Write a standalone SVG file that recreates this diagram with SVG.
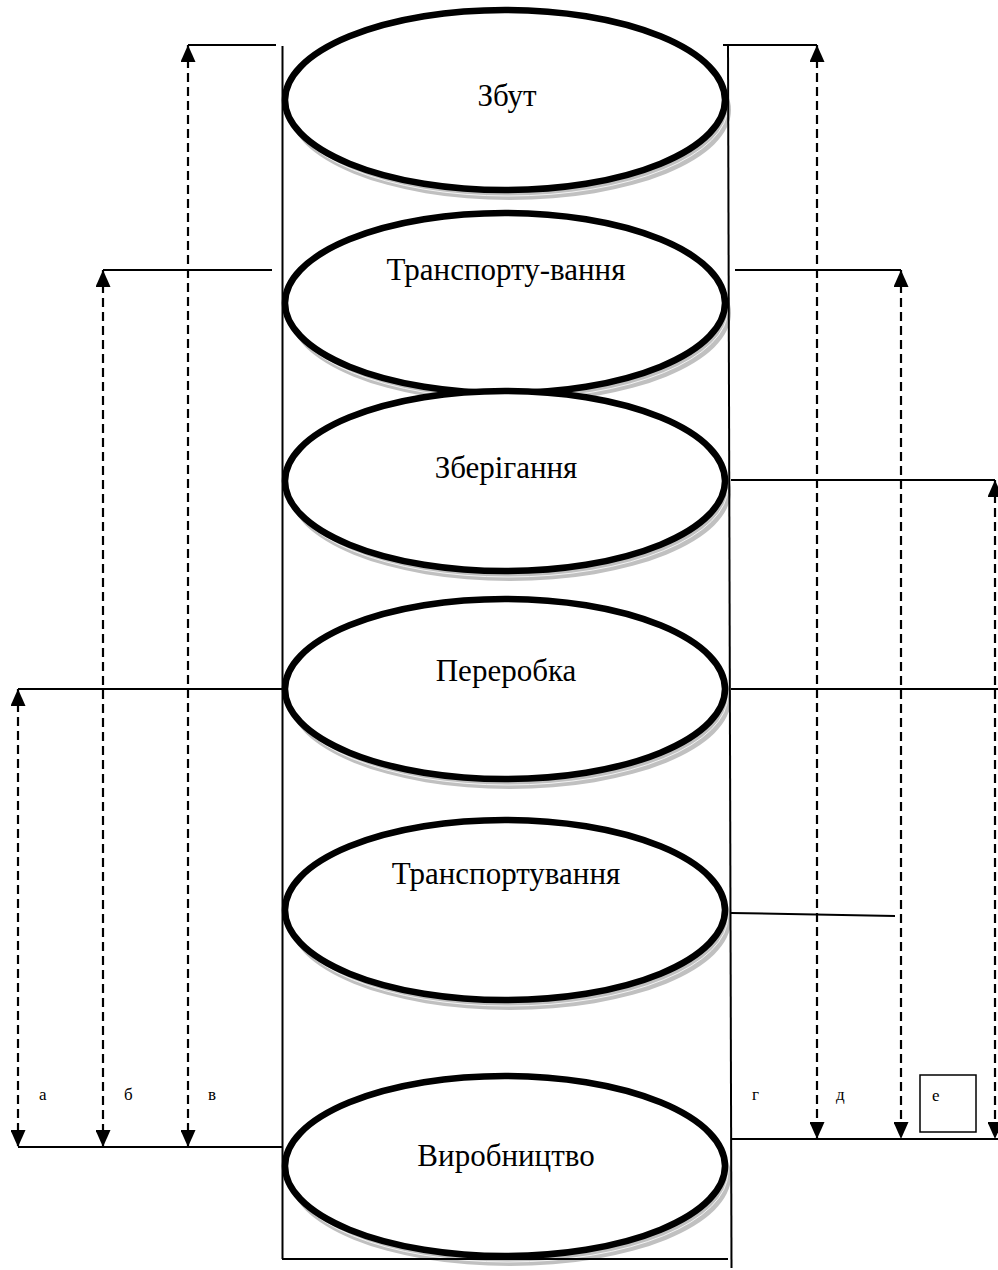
<svg xmlns="http://www.w3.org/2000/svg" width="998" height="1270" viewBox="0 0 998 1270">
  <style>
    .shadow { fill: #c0c0c0; stroke: none; }
    .gloss { fill: none; stroke: #ffffff; stroke-width: 0.8; }
    .stage { fill: #ffffff; stroke: #000000; stroke-width: 6.5; }
    .label { font-family: "Liberation Serif", "Times New Roman", serif; font-size: 31px; fill: #000000; text-anchor: middle; }
    .tag { font-family: "Liberation Serif", "Times New Roman", serif; font-size: 17px; fill: #000000; }
    .rule { stroke: #000000; stroke-width: 2; fill: none; }
    .span { stroke: #000000; stroke-width: 2.2; stroke-dasharray: 9 5; fill: none; marker-start: url(#tip); marker-end: url(#tip); }
    .box { fill: #ffffff; stroke: #000000; stroke-width: 1.5; }
  </style>
  <defs>
    <marker id="tip" markerUnits="userSpaceOnUse" viewBox="0 0 17 15" refX="17" refY="7.5" markerWidth="17" markerHeight="15" orient="auto-start-reverse">
      <path d="M0,0 L17,7.5 L0,15 Z" fill="#000000"/>
    </marker>
    <!-- one stage disc: grey drop shadow under a white ellipse with heavy outline -->
    <g id="disc">
      <ellipse class="shadow" cx="5" cy="10" rx="221" ry="90"/>
      <ellipse class="gloss" cx="3" cy="6" rx="220" ry="90"/>
      <ellipse class="stage" cx="0" cy="0" rx="220" ry="90"/>
    </g>
  </defs>

  <rect width="998" height="1270" fill="#ffffff"/>

  <g id="stage-zbut">
    <use href="#disc" x="505" y="100"/>
    <text class="label" x="507" y="106">Збут</text>
  </g>
  <g id="stage-transport-top">
    <use href="#disc" x="505" y="303"/>
    <text class="label" x="506" y="280">Транспорту-вання</text>
  </g>
  <g id="stage-storage">
    <use href="#disc" x="505" y="481"/>
    <text class="label" x="506" y="478">Зберігання</text>
  </g>
  <g id="stage-processing">
    <use href="#disc" x="505" y="689"/>
    <text class="label" x="506" y="681">Переробка</text>
  </g>
  <g id="stage-transport-low">
    <use href="#disc" x="505" y="910"/>
    <text class="label" x="506" y="884">Транспортування</text>
  </g>
  <g id="stage-production">
    <use href="#disc" x="505" y="1166"/>
    <text class="label" x="506" y="1166">Виробництво</text>
  </g>

  <g id="connectors">
    <!-- cylinder walls and base -->
    <line class="rule" x1="282.5" y1="46" x2="282.5" y2="1259"/>
    <line class="rule" x1="728" y1="46" x2="731.5" y2="1268"/>
    <line class="rule" x1="282" y1="1259" x2="728" y2="1259"/>

    <!-- left reference levels -->
    <line class="rule" x1="188" y1="45" x2="276" y2="45"/>
    <line class="rule" x1="103" y1="270" x2="272" y2="270"/>
    <line class="rule" x1="18" y1="689" x2="282" y2="689"/>
    <line class="rule" x1="18" y1="1147" x2="282" y2="1147"/>

    <!-- right reference levels -->
    <line class="rule" x1="723" y1="45" x2="817" y2="45"/>
    <line class="rule" x1="735" y1="270" x2="901" y2="270"/>
    <line class="rule" x1="731" y1="480" x2="995" y2="480"/>
    <line class="rule" x1="731" y1="689" x2="998" y2="689"/>
    <line class="rule" x1="731" y1="913" x2="895" y2="916"/>
    <line class="rule" x1="731" y1="1139" x2="998" y2="1139"/>

    <!-- dimension spans -->
    <line class="span" x1="18" y1="689" x2="18" y2="1147"/>
    <line class="span" x1="103" y1="270" x2="103" y2="1147"/>
    <line class="span" x1="188" y1="45" x2="188" y2="1147"/>
    <line class="span" x1="817" y1="45" x2="817" y2="1139"/>
    <line class="span" x1="901" y1="270" x2="901" y2="1139"/>
    <line class="span" x1="995" y1="480" x2="995" y2="1139"/>
  </g>

  <g id="span-tags">
    <text class="tag" x="39" y="1100">а</text>
    <text class="tag" x="124" y="1100">б</text>
    <text class="tag" x="208" y="1100">в</text>
    <text class="tag" x="752" y="1100">г</text>
    <text class="tag" x="836" y="1100">д</text>
    <rect class="box" x="920" y="1075" width="56" height="57"/>
    <text class="tag" x="932" y="1101">е</text>
  </g>
</svg>
